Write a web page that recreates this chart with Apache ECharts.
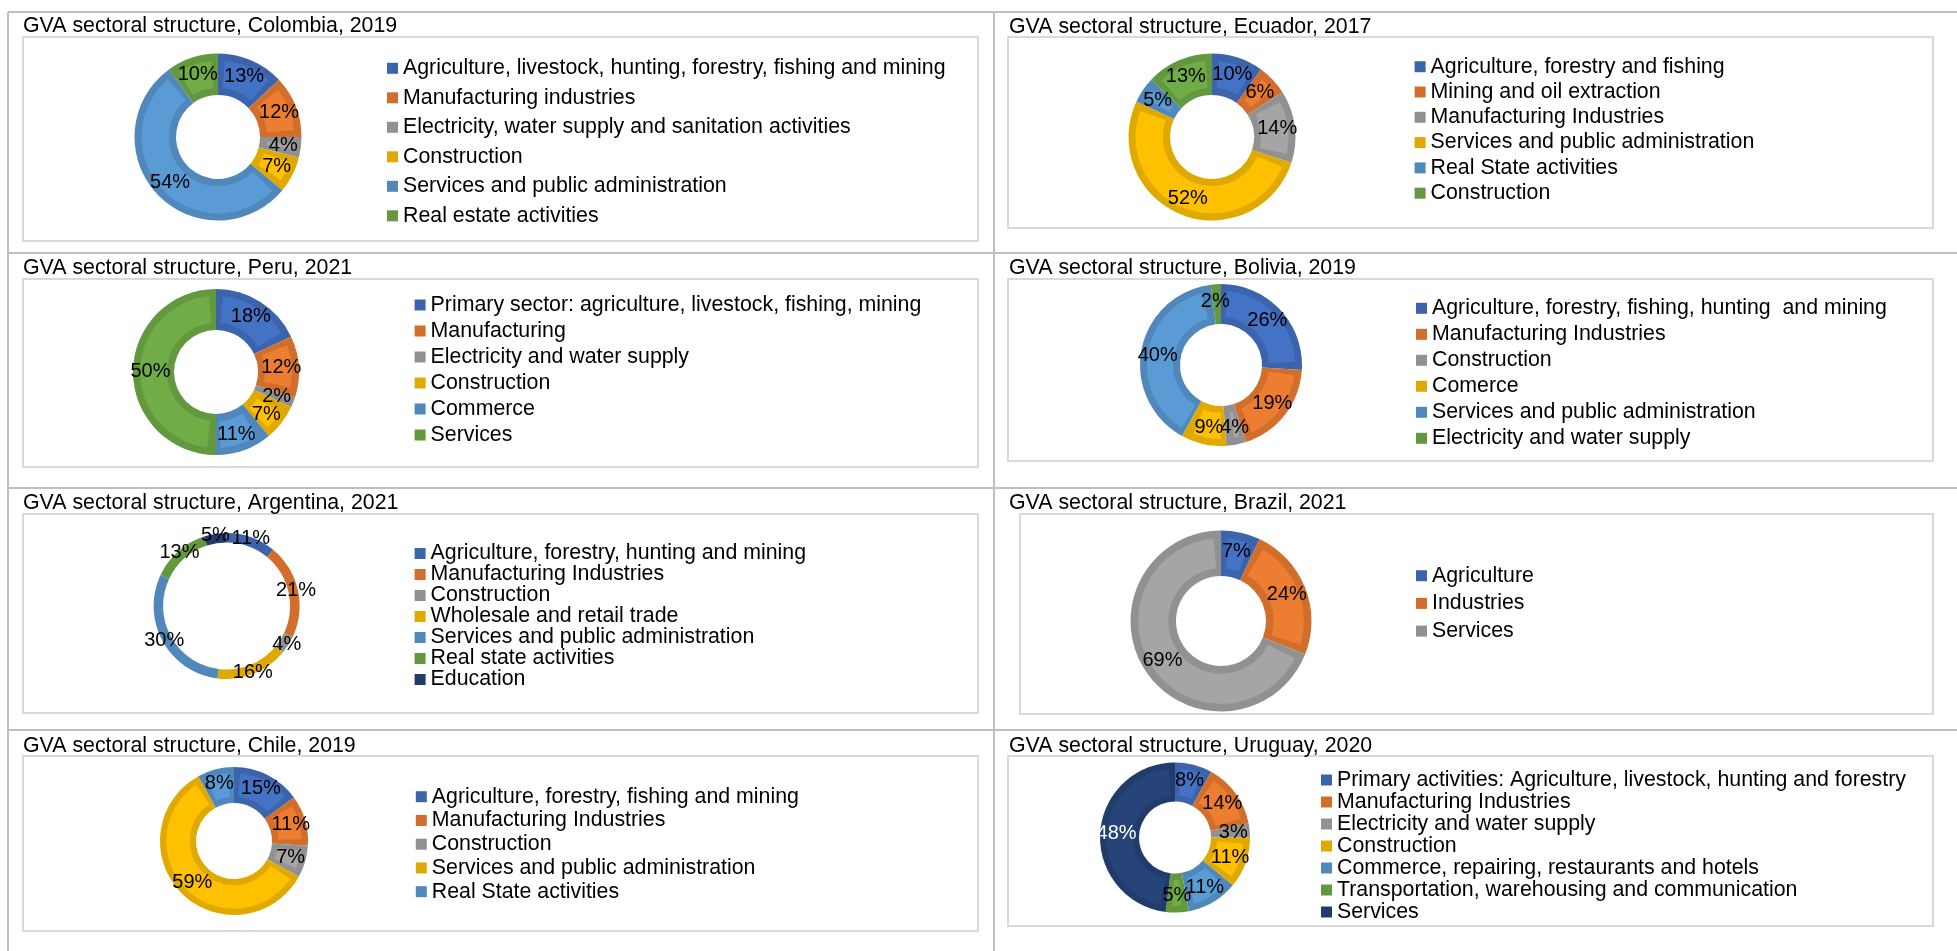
<!DOCTYPE html>
<html><head><meta charset="utf-8">
<script src="https://cdn.jsdelivr.net/npm/echarts@6/dist/echarts.min.js"></script>
<style>html,body{margin:0;padding:0;background:#fff;overflow:hidden}#c{width:1957px;height:951px}</style>
</head><body><div id="c"></div>
<script>
// ---------- DATA ----------
const chartTitles = [
  'GVA sectoral structure, Colombia, 2019',
  'GVA sectoral structure, Ecuador, 2017',
  'GVA sectoral structure, Peru, 2021',
  'GVA sectoral structure, Bolivia, 2019',
  'GVA sectoral structure, Argentina, 2021',
  'GVA sectoral structure, Brazil, 2021',
  'GVA sectoral structure, Chile, 2019',
  'GVA sectoral structure, Uruguay, 2020'
];
const colombiaCategories = ['Agriculture, livestock, hunting, forestry, fishing and mining','Manufacturing industries','Electricity, water supply and sanitation activities','Construction','Services and public administration','Real estate activities'];
const colombiaValues = [13, 12, 4, 7, 54, 10];
const ecuadorCategories = ['Agriculture, forestry and fishing','Mining and oil extraction','Manufacturing Industries','Services and public administration','Real State activities','Construction'];
const ecuadorValues = [10, 6, 14, 52, 5, 13];
const peruCategories = ['Primary sector: agriculture, livestock, fishing, mining','Manufacturing','Electricity and water supply','Construction','Commerce','Services'];
const peruValues = [18, 12, 2, 7, 11, 50];
const boliviaCategories = ['Agriculture, forestry, fishing, hunting  and mining','Manufacturing Industries','Construction','Comerce','Services and public administration','Electricity and water supply'];
const boliviaValues = [26, 19, 4, 9, 40, 2];
const argentinaCategories = ['Agriculture, forestry, hunting and mining','Manufacturing Industries','Construction','Wholesale and retail trade','Services and public administration','Real state activities','Education'];
const argentinaValues = [11, 21, 4, 16, 30, 13, 5];
const brazilCategories = ['Agriculture','Industries','Services'];
const brazilValues = [7, 24, 69];
const chileCategories = ['Agriculture, forestry, fishing and mining','Manufacturing Industries','Construction','Services and public administration','Real State activities'];
const chileValues = [15, 11, 7, 59, 8];
const uruguayCategories = ['Primary activities: Agriculture, livestock, hunting and forestry','Manufacturing Industries','Electricity and water supply','Construction','Commerce, repairing, restaurants and hotels','Transportation, warehousing and communication','Services'];
const uruguayValues = [8, 14, 3, 11, 11, 5, 48];

// ---------- LAYOUT / STYLE ----------
const FONT = '"Liberation Sans", Arial, sans-serif';
const palette = ['#4472C4','#ED7D31','#A5A5A5','#FFC000','#5B9BD5','#70AD47','#264478'];
function shade(hex, f) {
  const n = parseInt(hex.slice(1), 16);
  const r = Math.round(((n >> 16) & 255) * f), g = Math.round(((n >> 8) & 255) * f), b = Math.round((n & 255) * f);
  return 'rgb(' + r + ',' + g + ',' + b + ')';
}
const panels = [
  {cats: colombiaCategories, vals: colombiaValues, title: [23, 26.3], box: [23, 37, 955, 204], center: [218, 137], r: [42, 83.5], bevel: true, legend: [387, 68.3, 29.5]},
  {cats: ecuadorCategories, vals: ecuadorValues, title: [1009, 26.7], box: [1008, 37, 925, 191], center: [1212, 137], r: [42, 83.5], bevel: true, legend: [1414.6, 66.7, 25.3]},
  {cats: peruCategories, vals: peruValues, title: [23, 267.7], box: [23, 279, 955, 188], center: [216, 372], r: [42, 83], bevel: true, legend: [414.6, 305, 26]},
  {cats: boliviaCategories, vals: boliviaValues, title: [1009, 268], box: [1008, 279, 925, 182], center: [1221, 365], r: [41, 81], bevel: true, legend: [1416, 308.3, 26]},
  {cats: argentinaCategories, vals: argentinaValues, title: [23, 503], box: [23, 514, 955, 199], center: [226.6, 606], r: [63.5, 73], bevel: false, legend: [414.6, 553.3, 20.6]},
  {cats: brazilCategories, vals: brazilValues, title: [1009, 503], box: [1020, 514, 913, 200], center: [1221, 621], r: [45, 90.5], bevel: true, legend: [1416, 575.7, 27.7]},
  {cats: chileCategories, vals: chileValues, title: [23, 745.7], box: [23, 756, 955, 175], center: [234, 841], r: [38, 74], bevel: true, legend: [415.8, 796.7, 23.75]},
  {cats: uruguayCategories, vals: uruguayValues, title: [1009, 746], box: [1008, 756, 925, 170], center: [1175, 837.5], r: [36, 75], bevel: true, legend: [1321, 780, 22], whiteLabel: ['Services']}
];

const titles = [], legends = [], series = [], graphics = [];
const LINE = '#BFBFBF', BOX = '#D9D9D9';
// table grid lines
[12, 253, 488, 730].forEach(y => graphics.push({type: 'line', silent: true, shape: {x1: 8, y1: y, x2: 1957, y2: y}, style: {stroke: LINE, lineWidth: 2}}));
[8, 994].forEach(x => graphics.push({type: 'line', silent: true, shape: {x1: x, y1: 12, x2: x, y2: 951}, style: {stroke: LINE, lineWidth: 2}}));

panels.forEach((p, i) => {
  const names = p.cats.map(c => i + '|' + c);
  const TL = 22;
  titles.push({text: chartTitles[i], left: p.title[0], top: p.title[1] - TL / 2, padding: 0,
    textStyle: {fontSize: 21.33, fontWeight: 'normal', color: '#000', fontFamily: FONT, lineHeight: TL}});
  graphics.push({type: 'rect', silent: true, shape: {x: p.box[0], y: p.box[1], width: p.box[2], height: p.box[3]}, style: {fill: 'none', stroke: BOX, lineWidth: 2}});
  const L = p.legend[2];
  legends.push({orient: 'vertical', left: p.legend[0], top: p.legend[1] - L / 2, padding: 0, itemGap: 0,
    itemWidth: 11, itemHeight: 11, icon: 'rect', selectedMode: false, data: names,
    formatter: n => n.slice(n.indexOf('|') + 1),
    textStyle: {fontSize: 21.33, lineHeight: L, color: '#000', fontFamily: FONT}});
  const labelBase = {show: true, position: 'inside', formatter: '{c}%', fontSize: 20, color: '#000', fontFamily: FONT};
  const darkData = p.vals.map((v, k) => ({name: names[k], value: v, itemStyle: {color: shade(palette[k], 0.88)}}));
  const common = {type: 'pie', center: p.center, startAngle: 90, clockwise: true, silent: true,
    avoidLabelOverlap: false, labelLayout: {hideOverlap: false},
    emphasis: {disabled: true}, labelLine: {show: false}, animation: false};
  if (!p.bevel) {
    series.push(Object.assign({}, common, {z: 2, radius: p.r, label: labelBase, data: darkData}));
    return;
  }
  series.push(Object.assign({}, common, {z: 2, radius: p.r, label: {show: false}, data: darkData}));
  const b = 0.085 * p.r[1];
  const rm = (p.r[0] + p.r[1]) / 2;
  const pad = 2 * 0.8 * b / rm * 180 / Math.PI;
  const lightData = p.vals.map((v, k) => {
    const d = {name: names[k], value: v, itemStyle: {color: palette[k]}};
    if (p.whiteLabel && p.whiteLabel.indexOf(p.cats[k]) >= 0) d.label = {color: '#fff'};
    return d;
  });
  series.push(Object.assign({}, common, {z: 3, radius: [p.r[0] + b, p.r[1] - b], padAngle: pad, label: labelBase, data: lightData}));
});

const chart = echarts.init(document.getElementById('c'));
chart.setOption({
  animation: false,
  backgroundColor: '#fff',
  title: titles,
  legend: legends,
  graphic: {elements: graphics},
  series: series
});
</script>
</body></html>
